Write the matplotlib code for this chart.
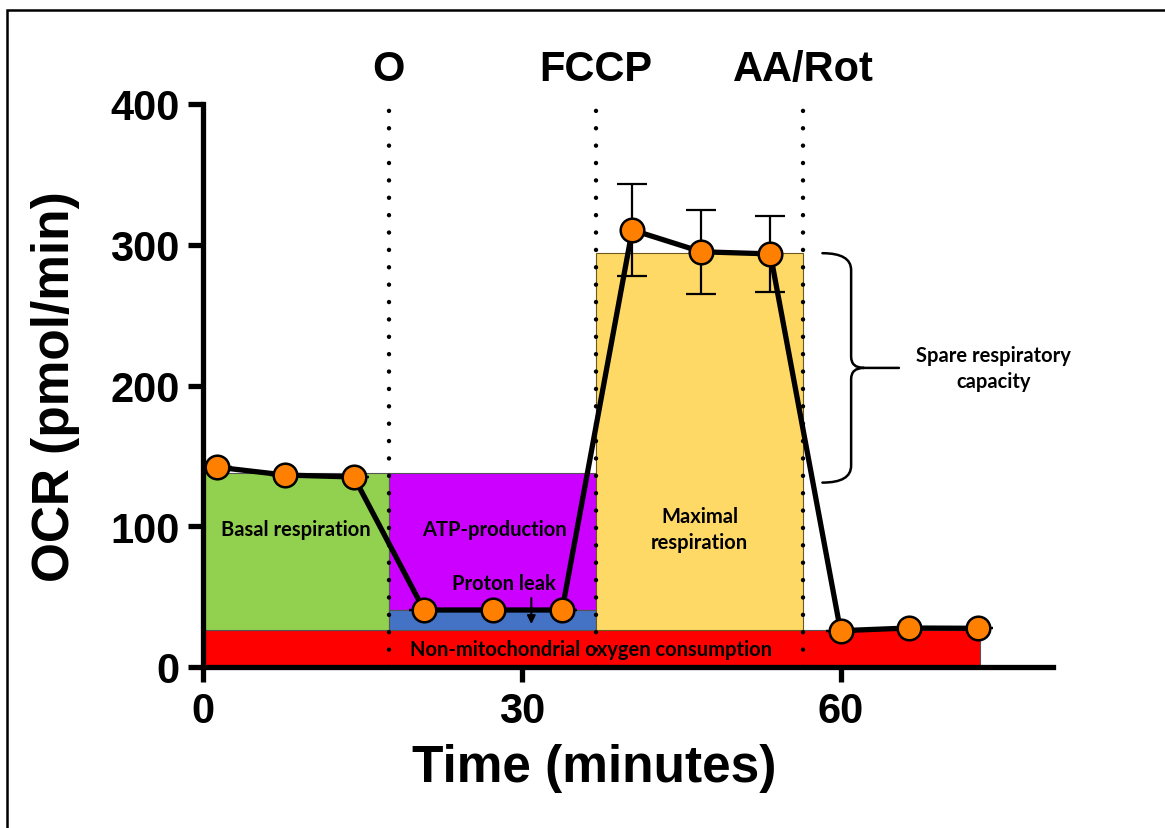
import matplotlib
matplotlib.use("Agg")
import matplotlib.pyplot as plt
from matplotlib.patches import Rectangle, PathPatch
from matplotlib.path import Path

# ---- data ----
time_min = [1.3, 7.7, 14.2, 20.8, 27.3, 33.8, 40.4, 46.9, 53.4, 60.0, 66.4, 72.9]
ocr = [142, 136.4, 135, 40.5, 40.5, 40.5, 310.5, 295, 293.5, 25.8, 27.7, 27.5]
ocr_err = [0, 0, 0, 0, 0, 0, 33, 30, 27, 0, 0, 0]

injection_times = [17.5, 37.0, 56.5]
injection_labels = ["O", "FCCP", "AA/Rot"]

nonmito_level = 26.3
leak_level = 40.7
basal_level = 138
maximal_level = 294
nonmito_end = 73.1

x_ticks = [0, 30, 60]
y_ticks = [0, 100, 200, 300, 400]

# ---- figure ----
fig = plt.figure(figsize=(11.65, 8.29), dpi=100)
ax = fig.add_axes([203/1165, 1-668/829, 850/1165, 563/829])

bold = dict(family="Liberation Sans", weight="bold")
small = dict(family="Lato", weight="bold", fontsize=14.5)
edge = "#555555"

# background regions
ax.add_patch(Rectangle((0, 0), nonmito_end, nonmito_level, facecolor="#FF0000",
                       edgecolor=edge, lw=0.8, zorder=1))
ax.add_patch(Rectangle((0, nonmito_level), injection_times[0], basal_level - nonmito_level,
                       facecolor="#92D050", edgecolor=edge, lw=0.8, zorder=1))
ax.add_patch(Rectangle((injection_times[0], leak_level), injection_times[1] - injection_times[0],
                       basal_level - leak_level, facecolor="#CC00FF", edgecolor=edge, lw=0.8, zorder=1))
ax.add_patch(Rectangle((injection_times[0], nonmito_level), injection_times[1] - injection_times[0],
                       leak_level - nonmito_level, facecolor="#4472C4", edgecolor=edge, lw=0.8, zorder=1))
ax.add_patch(Rectangle((injection_times[1], nonmito_level), injection_times[2] - injection_times[1],
                       maximal_level - nonmito_level, facecolor="#FFD966", edgecolor="#6b5a1e", lw=0.8, zorder=1))

# region labels
ax.text(injection_times[0] / 2, 98, "Basal respiration", ha="center", va="center", zorder=2, **small)
ax.text(27.4, 98, "ATP-production", ha="center", va="center", zorder=2, **small)
ax.text(28.3, 60, "Proton leak", ha="center", va="center", zorder=2, **small)
ax.annotate("", xy=(30.9, 28.5), xytext=(30.9, 51),
            arrowprops=dict(arrowstyle="-|>", color="black", lw=1.5, mutation_scale=12), zorder=2)
ax.text((injection_times[1] + injection_times[2]) / 2, 98, "Maximal\nrespiration", ha="center",
        va="center", linespacing=1.4, zorder=2, **small)
ax.text(36.5, 13, "Non-mitochondrial oxygen consumption", ha="center", va="center", zorder=2, **small)

# injection lines
for t, lab in zip(injection_times, injection_labels):
    ax.plot([t, t], [0, 400], color="black", lw=3.2, linestyle=(0, (0.01, 3.9)),
            dash_capstyle="round", zorder=3, clip_on=False)
    ax.text(t, 425, lab, ha="center", va="center", fontsize=30, **bold)

# brace for spare capacity
yt, yb = maximal_level, 131
ym = (yt + yb) / 2
x0, x1, x2 = 58.3, 61.0, 65.5
verts = [(x0, yt), (x1, yt), (x1, yt - 12),
         (x1, ym + 8),
         (x1, ym), (x1 + 1.2, ym),
         (x2, ym),
         (x1 + 1.2, ym), (x1, ym), (x1, ym - 8),
         (x1, yb + 12),
         (x1, yb), (x0, yb)]
codes = [Path.MOVETO, Path.CURVE3, Path.CURVE3,
         Path.LINETO,
         Path.CURVE3, Path.CURVE3,
         Path.LINETO,
         Path.MOVETO, Path.CURVE3, Path.CURVE3,
         Path.LINETO,
         Path.CURVE3, Path.CURVE3]
ax.add_patch(PathPatch(Path(verts, codes), facecolor="none", edgecolor="black", lw=1.8,
                       clip_on=False, zorder=4, capstyle="round", joinstyle="round"))
ax.text(74.4, ym, "Spare respiratory\ncapacity", ha="center", va="center", linespacing=1.4,
        clip_on=False, **small)

# data
ax.errorbar(time_min, ocr, yerr=ocr_err, fmt="none", ecolor="black", elinewidth=1.6,
            capsize=11, capthick=1.6, zorder=5)
ax.plot(time_min, ocr, color="black", lw=3.8, marker="o", markersize=17,
        markerfacecolor="#FF8000", markeredgecolor="black", markeredgewidth=1.8, zorder=6,
        clip_on=False)

# axes styling
ax.set_xlim(0, 80)
ax.set_ylim(0, 400)
ax.set_xticks(x_ticks)
ax.set_yticks(y_ticks)
for s in ["top", "right"]:
    ax.spines[s].set_visible(False)
for s in ["left", "bottom"]:
    ax.spines[s].set_linewidth(3.8)
    ax.spines[s].set_zorder(7)
ax.tick_params(axis="both", direction="out", length=11, width=3.8, pad=6)
for lbl in ax.get_xticklabels() + ax.get_yticklabels():
    lbl.set_fontfamily("Liberation Sans")
    lbl.set_fontweight("bold")
    lbl.set_fontsize(30)
ax.set_xlabel("Time (minutes)", fontsize=37, **bold)
ax.set_ylabel("OCR (pmol/min)", fontsize=37, **bold)
ax.xaxis.set_label_coords(0.46, -0.135)
ax.yaxis.set_label_coords(-0.145, 0.5)

# frame around figure (bottom and right edges lie outside the image)
fig.add_artist(Rectangle((7/1165, -0.05), 1.2, 1.05 - 11/829, transform=fig.transFigure,
                         facecolor="none", edgecolor="black", lw=1.8))

fig.savefig("out.png", dpi=100)
